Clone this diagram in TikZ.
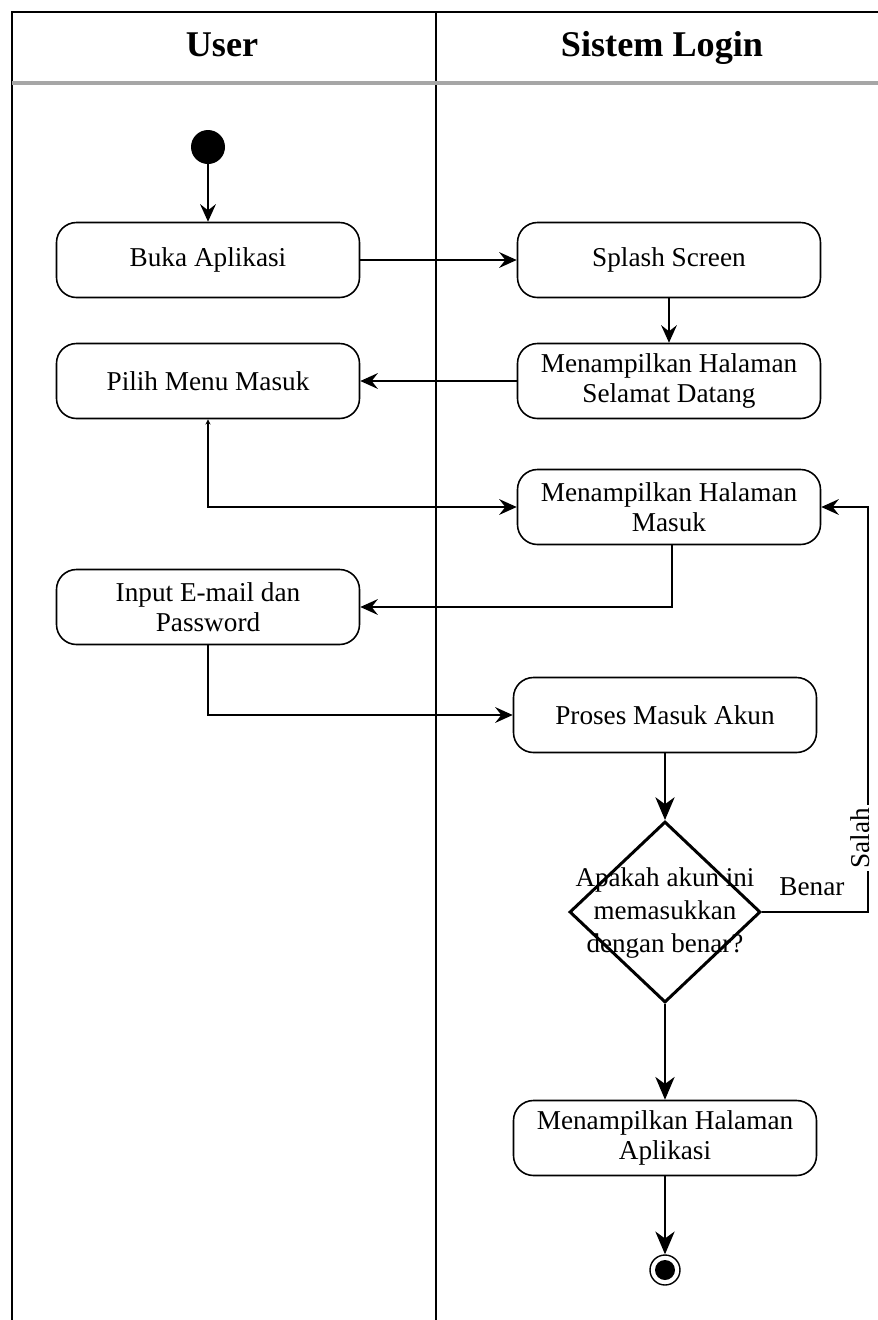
\documentclass[tikz,border=0pt]{standalone}
\usepackage{fontspec}
\setmainfont{Liberation Serif}
\usetikzlibrary{shapes.geometric,arrows.meta}
\begin{document}
\begin{tikzpicture}[x=0.02cm,y=-0.02cm,
  act/.style={draw,line width=0.9pt,rounded corners=0.4cm,minimum width=303*0.02cm,minimum height=75*0.02cm,align=center,font=\fontsize{15.5}{17.4}\selectfont,inner sep=0pt},
  flow/.style={line width=0.8pt,-{Stealth[length=10pt,width=9pt,inset=3.5pt]}},
  bigflow/.style={line width=0.8pt,-{Stealth[length=13pt,width=11pt,inset=4pt]}},
  lane/.style={line width=0.8pt},
  head/.style={font=\bfseries\fontsize{20.6}{24}\selectfont,anchor=base},
  lbl/.style={font=\fontsize{15.5}{17.4}\selectfont}]
\useasboundingbox (0,0) rectangle (878,1320);
\fill[white] (0,0) rectangle (878,1320);

% swimlane frame
\draw[lane] (878,12) -- (12,12) -- (12,1320);
\draw[lane] (436,12) -- (436,1320);
\draw[gray!70,line width=1.8pt] (12,83) -- (878,83);
\node[head] (hu) at (222,56) {User};
\node[head] (hs) at (662,56) {Sistem Login};

% activities
\node[circle,fill=black,minimum size=34*0.02cm,inner sep=0pt] (start) at (208,147) {};
\node[act] (buka) at (208,260) {Buka Aplikasi};
\node[act] (splash) at (669,260) {Splash Screen};
\node[act] (datang) at (669,381) {Menampilkan Halaman\\Selamat Datang};
\node[act] (pilih) at (208,381) {Pilih Menu Masuk};
\node[act] (masuk) at (669,507) {Menampilkan Halaman\\Masuk};
\node[act] (input) at (208,607) {Input E-mail dan\\Password};
\node[act] (proses) at (665,715) {Proses Masuk Akun};
\node[diamond,draw,line width=1.7pt,minimum width=191*0.02cm,minimum height=181*0.02cm,inner sep=0pt,aspect=1.05] (cek) at (665,912) {};
\node[align=center,font=\fontsize{15.4}{18.8}\selectfont] (cektext) at (665,913) {Apakah akun ini\\memasukkan\\dengan benar?};
\node[act] (aplikasi) at (665,1138) {Menampilkan Halaman\\Aplikasi};
\node[circle,draw,line width=0.8pt,minimum size=30*0.02cm,inner sep=0pt] (end) at (665,1270) {};
\node[circle,fill=black,minimum size=20*0.02cm,inner sep=0pt] (endin) at (665,1270) {};

% connectors
\draw[flow] (start) -- (buka);
\draw[flow] (buka) -- (splash);
\draw[flow] (splash) -- (datang);
\draw[flow] (datang) -- (pilih);
\draw[line width=0.8pt,{Stealth[length=3pt,width=3pt]}-{Stealth[length=10pt,width=9pt,inset=3.5pt]}] (pilih.south) |- (masuk.west);
\draw[flow] (masuk.south -| 672,0) |- (input.east);
\draw[flow] (input.south) |- (proses.west);
\draw[bigflow] (proses) -- (cek.north);
\draw[flow] (cek.east) -- (868,912) |- (masuk.east);
\node[lbl,fill=white,rotate=90,anchor=base,inner sep=1.5pt] (salah) at (869,838) {Salah};
\node[lbl] (benar) at (812,887) {Benar};
\draw[bigflow] (cek.south) -- (aplikasi);
\draw[bigflow] (aplikasi) -- (end);
\end{tikzpicture}
\end{document}
